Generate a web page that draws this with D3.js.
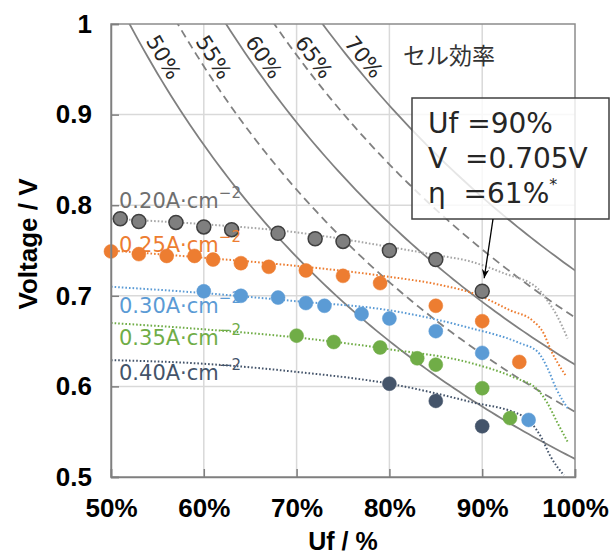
<!DOCTYPE html>
<html>
<head>
<meta charset="utf-8">
<script src="https://cdn.jsdelivr.net/npm/d3@7"></script>
<style>
  body { margin: 0; background: #fff; }
  text { white-space: pre; }
</style>
</head>
<body>
<svg id="chart" width="611" height="556"></svg>
<script>
// iso-efficiency lines (cell efficiency, %)
const efficiencies = [50, 55, 60, 65, 70];
const dashedEfficiencies = [55, 65];
const effFactor = 1.04; // V * Uf = eta * effFactor

// current density labels
const densityLabels = ["0.20", "0.25", "0.30", "0.35", "0.40"];

// measured points (Uf %, V)
const uf020 = [51, 53, 57, 60, 63, 68, 72, 75, 80, 85, 90];
const v020 = [0.785, 0.782, 0.781, 0.776, 0.773, 0.769, 0.763, 0.760, 0.750, 0.740, 0.705];
const uf025 = [50, 53, 56, 59, 61, 64, 67, 71, 75, 79, 85, 90, 94];
const v025 = [0.749, 0.746, 0.744, 0.744, 0.740, 0.736, 0.732, 0.728, 0.722, 0.714, 0.689, 0.672, 0.627];
const uf030 = [60, 64, 68, 71, 73, 77, 80, 85, 90, 95];
const v030 = [0.705, 0.700, 0.698, 0.692, 0.689, 0.680, 0.675, 0.661, 0.637, 0.563];
const uf035 = [70, 74, 79, 83, 85, 90, 93];
const v035 = [0.656, 0.649, 0.643, 0.631, 0.624, 0.598, 0.565];
const uf040 = [80, 85, 90];
const v040 = [0.603, 0.584, 0.556];

// dotted trend curves
const fitUf020 = [50, 60, 70, 80, 85, 88.7, 92.3, 96, 97, 97.9, 99.2];
const fitV020 = [0.785, 0.779, 0.770, 0.754, 0.745, 0.738, 0.725, 0.708, 0.695, 0.681, 0.653];
const fitUf025 = [50, 60, 70, 80, 85, 89.5, 93, 95.5, 96.6, 97.4, 99];
const fitV025 = [0.750, 0.742, 0.733, 0.721, 0.713, 0.701, 0.684, 0.672, 0.659, 0.640, 0.612];
const fitUf030 = [50, 60, 70, 80, 88.5, 94, 96, 97, 98, 99.2];
const fitV030 = [0.710, 0.703, 0.694, 0.684, 0.665, 0.648, 0.638, 0.621, 0.597, 0.576];
const fitUf035 = [50, 60, 70, 80, 88.7, 93.4, 96, 97, 98.1, 99.2];
const fitV035 = [0.670, 0.663, 0.654, 0.641, 0.626, 0.610, 0.596, 0.582, 0.560, 0.539];
const fitUf040 = [50, 60, 70, 80, 88.7, 94.4, 96.3, 97.4, 98.8];
const fitV040 = [0.629, 0.625, 0.616, 0.603, 0.583, 0.567, 0.545, 0.522, 0.502];

const xTicks = [50, 60, 70, 80, 90, 100];
const yTicks = [0.5, 0.6, 0.7, 0.8, 0.9, 1];

// annotation
const noteUf = 90, noteV = 0.705, noteEta = 61;

const series = [
  { label: densityLabels[0], uf: uf020, v: v020, fu: fitUf020, fv: fitV020 },
  { label: densityLabels[1], uf: uf025, v: v025, fu: fitUf025, fv: fitV025 },
  { label: densityLabels[2], uf: uf030, v: v030, fu: fitUf030, fv: fitV030 },
  { label: densityLabels[3], uf: uf035, v: v035, fu: fitUf035, fv: fitV035 },
  { label: densityLabels[4], uf: uf040, v: v040, fu: fitUf040, fv: fitV040 }
];
const colors = ["#7f7f7f", "#ed7d31", "#5b9bd5", "#70ad47", "#44546a"];
const fitColors = ["#a6a6a6", "#ed7d31", "#5b9bd5", "#70ad47", "#44546a"];
const labelColors = ["#6f6f6f", "#ed7d31", "#5b9bd5", "#70ad47", "#44546a"];
const labelY = [208, 252, 313, 345, 380];

const margin = { left: 111, top: 24, right: 36, bottom: 79 };
const W = 611, H = 556;
const x = d3.scaleLinear().domain([50, 100]).range([margin.left, W - margin.right]);
const y = d3.scaleLinear().domain([0.5, 1]).range([H - margin.bottom, margin.top]);

const svg = d3.select("#chart");

svg.append("defs").append("clipPath").attr("id", "plot")
  .append("rect")
  .attr("x", x(50)).attr("y", y(1))
  .attr("width", x(100) - x(50)).attr("height", y(0.5) - y(1));

svg.append("defs").append("marker")
  .attr("id", "arrow")
  .attr("viewBox", "0 -5 10 10")
  .attr("refX", 10).attr("refY", 0)
  .attr("markerWidth", 9).attr("markerHeight", 9)
  .attr("markerUnits", "userSpaceOnUse")
  .attr("orient", "auto")
  .append("path")
  .attr("d", "M0,-4L10,0L0,4L3,0Z")
  .attr("fill", "#000");

// gridlines
const grid = svg.append("g");
grid.selectAll(".gx").data(xTicks.slice(1, -1)).enter().append("line")
  .attr("x1", d => x(d)).attr("x2", d => x(d))
  .attr("y1", y(1)).attr("y2", y(0.5))
  .attr("stroke", "#d9d9d9").attr("stroke-width", 1.5);
grid.selectAll(".gy").data(yTicks.slice(1, -1)).enter().append("line")
  .attr("x1", x(50)).attr("x2", x(100))
  .attr("y1", d => y(d)).attr("y2", d => y(d))
  .attr("stroke", "#d9d9d9").attr("stroke-width", 1.5);

// iso-efficiency lines
const plot = svg.append("g").attr("clip-path", "url(#plot)");
const effLine = d3.line().x(d => x(d[0])).y(d => y(d[1]));
efficiencies.forEach(function (eta) {
  const pts = [];
  const u0 = eta * effFactor;
  for (let u = u0 - 1; u <= 100.5; u += 0.5) {
    pts.push([u, eta * effFactor / u]);
  }
  plot.append("path")
    .attr("d", effLine(pts))
    .attr("fill", "none")
    .attr("stroke", "#808080")
    .attr("stroke-width", 1.8)
    .attr("stroke-dasharray", dashedEfficiencies.includes(eta) ? "8,5" : null);
});

// efficiency labels
efficiencies.forEach(function (eta) {
  const vLab = y.invert(57);
  const u = eta * effFactor / vLab;
  const px = x(u), py = 57;
  const px2 = x(eta * effFactor / y.invert(58));
  const ang = Math.atan2(1, px2 - px) * 180 / Math.PI;
  svg.append("text")
    .attr("transform", `translate(${px + 16},${py}) rotate(${ang})`)
    .attr("text-anchor", "middle")
    .attr("dy", "0.36em")
    .attr("font-family", "DejaVu Sans")
    .attr("font-size", 21)
    .attr("fill", "#262626")
    .text(eta + "%");
});

svg.append("text")
  .attr("x", 403).attr("y", 64)
  .attr("font-family", "Noto Sans CJK JP")
  .attr("font-size", 23)
  .attr("fill", "#333")
  .text("セル効率");

// trend curves
const fitLine = d3.line().x(d => x(d[0])).y(d => y(d[1])).curve(d3.curveMonotoneX);
series.forEach(function (s, i) {
  plot.append("path")
    .attr("d", fitLine(s.fu.map((u, j) => [u, s.fv[j]])))
    .attr("fill", "none")
    .attr("stroke", fitColors[i])
    .attr("stroke-width", 2)
    .attr("stroke-dasharray", "1.6,2");
});

// points
series.forEach(function (s, i) {
  svg.append("g").selectAll("circle")
    .data(s.uf.map((u, j) => [u, s.v[j]]))
    .enter().append("circle")
    .attr("cx", d => x(d[0])).attr("cy", d => y(d[1]))
    .attr("r", 7)
    .attr("fill", colors[i])
    .attr("stroke", i === 0 ? "#3f3f3f" : colors[i])
    .attr("stroke-width", i === 0 ? 1.5 : 0.5);
});

// current density labels
series.forEach(function (s, i) {
  const t = svg.append("text")
    .attr("x", 119).attr("y", labelY[i])
    .attr("font-family", "DejaVu Sans")
    .attr("font-size", 21)
    .attr("fill", labelColors[i]);
  t.append("tspan").text(s.label + "A·cm");
  t.append("tspan").attr("dy", -10).attr("font-size", 15).text("−2");
});

// frame
svg.append("rect")
  .attr("x", x(50)).attr("y", y(1))
  .attr("width", x(100) - x(50)).attr("height", y(0.5) - y(1))
  .attr("fill", "none").attr("stroke", "#8c8c8c").attr("stroke-width", 1.5);

// axes
const yAxis = svg.append("g")
  .attr("transform", `translate(${x(50)},0)`)
  .call(d3.axisLeft(y).tickValues(yTicks).tickSize(-8).tickPadding(19)
    .tickFormat(d => d === 1 ? "1" : d.toFixed(1)));
const xAxis = svg.append("g")
  .attr("transform", `translate(0,${y(0.5)})`)
  .call(d3.axisBottom(x).tickValues(xTicks).tickSize(-8).tickPadding(22)
    .tickFormat(d => d + "%"));
[xAxis, yAxis].forEach(function (a) {
  a.select(".domain").attr("stroke", "#7f7f7f").attr("stroke-width", 1.5);
  a.selectAll(".tick line").attr("stroke", "#7f7f7f").attr("stroke-width", 1.5);
  a.selectAll(".tick text")
    .attr("font-family", "Liberation Sans, Arial, sans-serif")
    .attr("font-weight", "bold")
    .attr("font-size", 26)
    .attr("fill", "#000");
});

svg.append("text")
  .attr("x", (x(50) + x(100)) / 2).attr("y", 550)
  .attr("text-anchor", "middle")
  .attr("font-family", "Liberation Sans, Arial, sans-serif")
  .attr("font-weight", "bold").attr("font-size", 25)
  .text("Uf / %");

svg.append("text")
  .attr("transform", "translate(37,244) rotate(-90)")
  .attr("text-anchor", "middle")
  .attr("font-family", "Liberation Sans, Arial, sans-serif")
  .attr("font-weight", "bold").attr("font-size", 26)
  .text("Voltage / V");

// annotation box
const box = svg.append("g");
box.append("rect")
  .attr("x", 412).attr("y", 98).attr("width", 197).attr("height", 121)
  .attr("fill", "#fff").attr("fill-opacity", 0.8)
  .attr("stroke", "#404040").attr("stroke-width", 1.5);
const noteLines = [`Uf =${noteUf}%`, `V  =${noteV}V`, `η  =${noteEta}%`];
noteLines.forEach(function (line, i) {
  const t = box.append("text")
    .attr("x", 428).attr("y", 133 + i * 35)
    .attr("font-family", "DejaVu Sans")
    .attr("font-size", 28)
    .attr("fill", "#262626")
    .text(line);
  if (i === 2) {
    t.append("tspan").attr("dy", -13).attr("font-size", 16).text("*");
  }
});
box.append("line")
  .attr("x1", 493).attr("y1", 219)
  .attr("x2", x(noteUf) + 2).attr("y2", y(noteV) - 13)
  .attr("stroke", "#000").attr("stroke-width", 1.3)
  .attr("marker-end", "url(#arrow)");
</script>
</body>
</html>
